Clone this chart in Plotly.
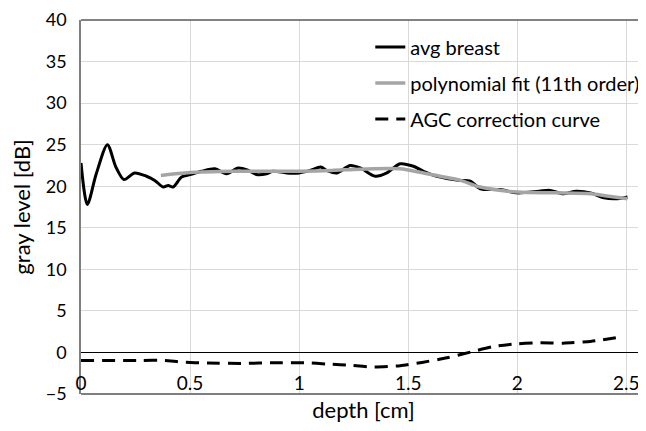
import plotly.graph_objects as go

# ---- data ----
depth_avg = [0, 0.029, 0.07, 0.121, 0.16, 0.197, 0.246, 0.30, 0.338, 0.377, 0.40, 0.422,
             0.461, 0.5, 0.553, 0.614, 0.667, 0.721, 0.767, 0.805, 0.851, 0.88, 0.943, 1.0,
             1.05, 1.099, 1.127, 1.172, 1.234, 1.28, 1.349, 1.402, 1.463, 1.524, 1.570,
             1.632, 1.739, 1.785, 1.83, 1.922, 2.0, 2.1, 2.15, 2.21, 2.27, 2.336, 2.397,
             2.46, 2.505]
avg_breast = [22.8, 17.8, 21.5, 25.0, 22.3, 20.8, 21.6, 21.2, 20.7, 19.9, 20.1, 19.9,
              21.1, 21.4, 21.8, 22.1, 21.5, 22.2, 21.9, 21.4, 21.5, 21.8, 21.6, 21.6,
              21.9, 22.3, 21.9, 21.6, 22.5, 22.2, 21.2, 21.6, 22.7, 22.4, 21.8,
              21.2, 20.7, 20.6, 19.7, 19.6, 19.2, 19.4, 19.5, 19.1, 19.4, 19.2, 18.6,
              18.5, 18.7]

depth_fit = [0.366, 0.5, 0.7, 0.9, 1.0, 1.15, 1.28, 1.46, 1.57, 1.647, 1.74, 1.83, 2.0,
             2.17, 2.336, 2.42, 2.505]
poly_fit = [21.3, 21.65, 21.8, 21.8, 21.8, 21.9, 22.05, 22.1, 21.6, 21.2, 20.7, 19.9, 19.3,
            19.2, 19.1, 18.8, 18.5]

depth_agc = [0, 0.277, 0.384, 0.461, 0.583, 0.736, 0.889, 1.027, 1.134, 1.241, 1.341,
             1.463, 1.563, 1.678, 1.785, 1.892, 2.0, 2.106, 2.21, 2.336, 2.48]
agc_curve = [-0.96, -0.96, -0.96, -1.16, -1.28, -1.32, -1.24, -1.24, -1.40, -1.56, -1.76,
             -1.6, -1.2, -0.64, 0.04, 0.72, 1.04, 1.16, 1.12, 1.32, 1.9]

x_ticks = [0, 0.5, 1, 1.5, 2, 2.5]
x_tick_text = ["0", "0.5", "1", "1.5", "2", "2.5"]
y_ticks = [-5, 0, 5, 10, 15, 20, 25, 30, 35, 40]

FONT = "Lato"
GRID = "#d9d9d9"
FRAME = "#7f7f7f"

fig = go.Figure()
fig.add_trace(go.Scatter(x=depth_avg, y=avg_breast, mode="lines", name="avg breast",
                         line=dict(color="black", width=3, shape="spline", smoothing=0.8),
                         legendgroup="a"))
fig.add_trace(go.Scatter(x=depth_fit, y=poly_fit, mode="lines",
                         name="polynomial fit (11th order)",
                         line=dict(color="#a5a5a5", width=3.5, shape="spline", smoothing=0.8),
                         legendgroup="b"))
fig.add_trace(go.Scatter(x=depth_agc, y=agc_curve, mode="lines", name="AGC correction curve",
                         line=dict(color="black", width=3, dash="13px,8px", shape="spline",
                                   smoothing=0.6),
                         legendgroup="c"))

# the page body adds an 8px margin, so the figure is sized to fit the 646x431 window
fig.update_layout(
    width=638, height=415,
    margin=dict(l=73, r=0, t=12, b=29, autoexpand=False),
    paper_bgcolor="white", plot_bgcolor="white",
    font=dict(family=FONT, size=18, color="black"),
    showlegend=True,
    legend=dict(x=0.512, y=0.98, xanchor="left", yanchor="top",
                bgcolor="rgba(255,255,255,0)", font=dict(size=20, family=FONT),
                tracegroupgap=7),
    xaxis=dict(range=[0, 2.59], tickvals=x_ticks, ticktext=x_tick_text,
               anchor="free", position=5 / 45, automargin=False,
               ticklabeloverflow="allow",
               showgrid=True, gridcolor=GRID, gridwidth=1,
               zeroline=False, showline=False,
               ticks="outside", ticklen=14, tickcolor="rgba(0,0,0,0)",
               tickfont=dict(size=19),
               title=dict(text="depth [cm]", font=dict(size=22), standoff=20)),
    yaxis=dict(range=[-5, 40], tickvals=y_ticks, showgrid=True, gridcolor=GRID, gridwidth=1,
               automargin=False, ticklabeloverflow="allow",
               zeroline=True, zerolinecolor="black", zerolinewidth=1,
               showline=True, linecolor=FRAME, linewidth=1.5,
               ticks="outside", ticklen=9, tickcolor="rgba(0,0,0,0)",
               tickfont=dict(size=18),
               title=dict(text="gray level [dB]", font=dict(size=22), standoff=14)),
    shapes=[
        dict(type="line", xref="paper", yref="paper", x0=0, x1=1, y0=1, y1=1,
             line=dict(color="#595959", width=1.5)),
        dict(type="line", xref="paper", yref="paper", x0=0, x1=1, y0=0, y1=0,
             line=dict(color=FRAME, width=2)),
    ],
)

fig.write_html("out.html")
